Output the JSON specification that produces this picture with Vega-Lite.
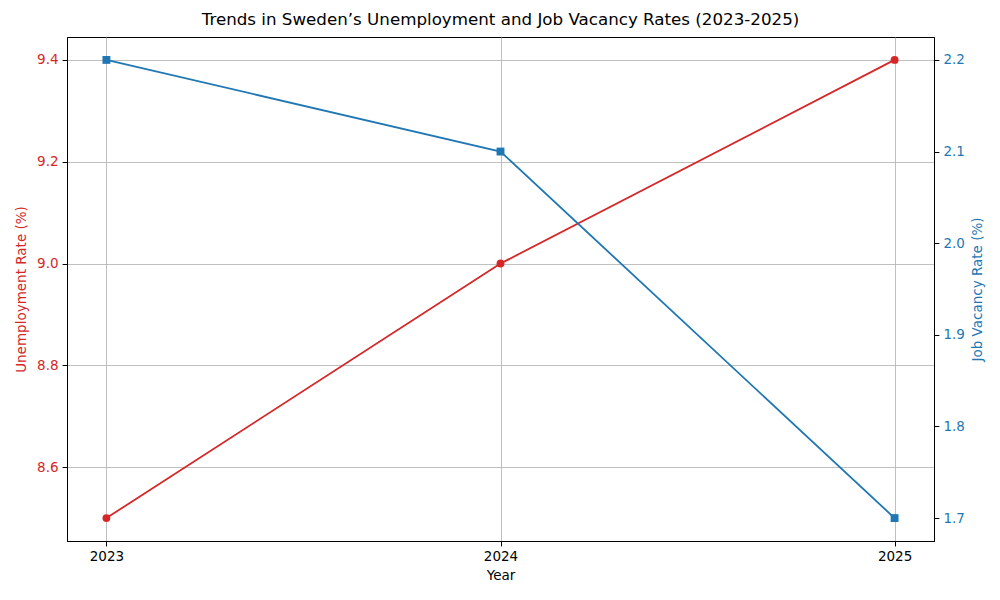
{
  "$schema": "https://vega.github.io/schema/vega-lite/v6.json",
  "width": 867,
  "height": 504,
  "autosize": {"type": "none"},
  "padding": {"left": 67, "top": 37, "right": 66, "bottom": 59},
  "background": "white",
  "config": {
    "font": "DejaVu Sans",
    "view": {"stroke": "black", "strokeWidth": 1},
    "axis": {
      "labelFont": "DejaVu Sans",
      "titleFont": "DejaVu Sans",
      "labelFontSize": 13.5,
      "titleFontSize": 13.5,
      "titleFontWeight": "normal",
      "tickSize": 4.9,
      "tickColor": "black",
      "domainColor": "black",
      "labelPadding": 4,
      "gridColor": "#b0b0b0",
      "gridWidth": 0.8,
      "gridOpacity": 1
    }
  },
  "title": {
    "text": "Trends in Sweden’s Unemployment and Job Vacancy Rates (2023-2025)",
    "fontSize": 16.7,
    "fontWeight": "normal",
    "font": "DejaVu Sans",
    "anchor": "middle",
    "offset": 8,
    "color": "black"
  },
  "data": {
    "values": [
      {"Year": 2023, "Unemployment": 8.5, "Vacancy": 2.2},
      {"Year": 2024, "Unemployment": 9.0, "Vacancy": 2.1},
      {"Year": 2025, "Unemployment": 9.4, "Vacancy": 1.7}
    ]
  },
  "encoding": {
    "x": {
      "field": "Year",
      "type": "quantitative",
      "scale": {"domain": [2022.9, 2025.1], "nice": false, "zero": false},
      "axis": {"values": [2023, 2024, 2025], "format": "d", "title": "Year", "grid": true, "labelColor": "black", "titleColor": "black", "titlePadding": 5}
    }
  },
  "layer": [
    {
      "encoding": {
        "y": {
          "field": "Unemployment",
          "type": "quantitative",
          "scale": {"domain": [8.455, 9.445], "nice": false, "zero": false},
          "axis": {
            "orient": "left",
            "title": "Unemployment Rate (%)",
            "values": [8.6, 8.8, 9.0, 9.2, 9.4],
            "format": ".1f",
            "grid": true,
            "labelColor": "#d62728",
            "titleColor": "#d62728",
            "titlePadding": 8
          }
        }
      },
      "layer": [
        {"mark": {"type": "line", "color": "#d62728", "strokeWidth": 1.8}},
        {"mark": {"type": "point", "shape": "circle", "filled": true, "opacity": 1, "color": "#d62728", "size": 62}}
      ]
    },
    {
      "encoding": {
        "y": {
          "field": "Vacancy",
          "type": "quantitative",
          "scale": {"domain": [1.675, 2.225], "nice": false, "zero": false},
          "axis": {
            "orient": "right",
            "title": "Job Vacancy Rate (%)",
            "titleAngle": 270,
            "titleBaseline": "top",
            "values": [1.7, 1.8, 1.9, 2.0, 2.1, 2.2],
            "format": ".1f",
            "grid": false,
            "labelColor": "#1f77b4",
            "titleColor": "#1f77b4",
            "titlePadding": 6
          }
        }
      },
      "layer": [
        {"mark": {"type": "line", "color": "#1f77b4", "strokeWidth": 1.8}},
        {"mark": {"type": "point", "shape": "square", "filled": true, "opacity": 1, "color": "#1f77b4", "size": 62}}
      ]
    }
  ],
  "resolve": {"scale": {"y": "independent"}}
}
